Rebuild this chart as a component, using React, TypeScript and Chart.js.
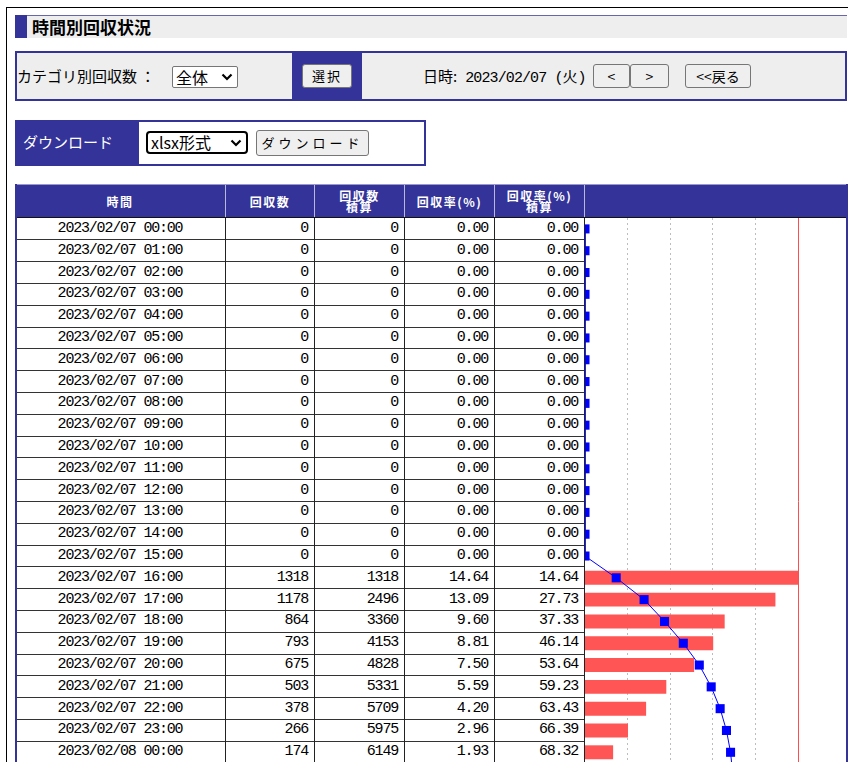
import React, { useEffect, useRef } from 'react';
import { Chart, registerables } from 'chart.js';

Chart.register(...registerables);

// ---- data ----
const times = [
  '2023/02/07 00:00', '2023/02/07 01:00', '2023/02/07 02:00', '2023/02/07 03:00',
  '2023/02/07 04:00', '2023/02/07 05:00', '2023/02/07 06:00', '2023/02/07 07:00',
  '2023/02/07 08:00', '2023/02/07 09:00', '2023/02/07 10:00', '2023/02/07 11:00',
  '2023/02/07 12:00', '2023/02/07 13:00', '2023/02/07 14:00', '2023/02/07 15:00',
  '2023/02/07 16:00', '2023/02/07 17:00', '2023/02/07 18:00', '2023/02/07 19:00',
  '2023/02/07 20:00', '2023/02/07 21:00', '2023/02/07 22:00', '2023/02/07 23:00',
  '2023/02/08 00:00', '2023/02/08 01:00',
];
const counts = [0, 0, 0, 0, 0, 0, 0, 0, 0, 0, 0, 0, 0, 0, 0, 0, 1318, 1178, 864, 793, 675, 503, 378, 266, 174, 93];
const cumCounts = [0, 0, 0, 0, 0, 0, 0, 0, 0, 0, 0, 0, 0, 0, 0, 0, 1318, 2496, 3360, 4153, 4828, 5331, 5709, 5975, 6149, 6242];
const rates = [0, 0, 0, 0, 0, 0, 0, 0, 0, 0, 0, 0, 0, 0, 0, 0, 14.64, 13.09, 9.6, 8.81, 7.5, 5.59, 4.2, 2.96, 1.93, 1.03];
const cumRates = [0, 0, 0, 0, 0, 0, 0, 0, 0, 0, 0, 0, 0, 0, 0, 0, 14.64, 27.73, 37.33, 46.14, 53.64, 59.23, 63.43, 66.39, 68.32, 69.33];
const headerLabels = ['時間', '回収数', '回収数\n積算', '回収率(%)', '回収率(%)\n積算', ''];
const gridValues = [20, 40, 60, 80];
const refValue = 100;
const axisMax = 122.5;

// ---- layout ----
const COLS = [15, 225, 314, 404, 494, 584, 847];
const HEAD_TOP = 184;
const BODY_TOP = 218;
const ROW_H = 21.8;
const NUM_FONT = '"Liberation Mono", monospace';
const JP_FONT = '"Noto Sans CJK JP", "Noto Sans", sans-serif';
const BLUE = '#333399';

function ChartCol() {
  const ref = useRef<HTMLCanvasElement | null>(null);
  useEffect(() => {
    const canvas = ref.current;
    if (!canvas) return;
    const maxCount = Math.max(...counts);
    const refLine = {
      id: 'refLine',
      beforeDatasetsDraw(chart: any) {
        const x = chart.scales.x.getPixelForValue(refValue);
        const { top, bottom } = chart.chartArea;
        const ctx = chart.ctx;
        ctx.save();
        ctx.strokeStyle = '#ff4d4d';
        ctx.lineWidth = 1;
        ctx.beginPath();
        ctx.moveTo(Math.round(x) + 0.5, top);
        ctx.lineTo(Math.round(x) + 0.5, bottom);
        ctx.stroke();
        ctx.restore();
      },
    };
    const chart = new Chart(canvas, {
      type: 'bar',
      data: {
        labels: times,
        datasets: [
          {
            type: 'line',
            data: cumRates,
            xAxisID: 'x',
            yAxisID: 'y',
            borderColor: '#0000ff',
            backgroundColor: '#0000ff',
            borderWidth: 1,
            pointStyle: 'rect',
            pointRadius: 6.4,
            pointBorderWidth: 0,
            pointBackgroundColor: '#0000ff',
            order: 0,
            clip: 0,
          } as any,
          {
            type: 'bar',
            data: counts,
            xAxisID: 'xBar',
            yAxisID: 'y',
            backgroundColor: '#ff5555',
            borderWidth: 0,
            barPercentage: 0.64,
            categoryPercentage: 1,
            order: 1,
          } as any,
        ],
      },
      options: {
        indexAxis: 'y',
        responsive: false,
        animation: false,
        layout: { padding: 0, autoPadding: false },
        plugins: { legend: { display: false }, tooltip: { enabled: false } },
        scales: {
          y: { type: 'category', display: false, offset: true },
          x: {
            type: 'linear',
            position: 'top',
            min: 0,
            max: axisMax,
            ticks: { display: false, stepSize: 20 },
            grid: {
              drawTicks: false,
              lineWidth: 1,
              color: (c: any) => (c.tick && gridValues.includes(c.tick.value) ? '#bdbdbd' : 'rgba(0,0,0,0)'),
            },
            border: { display: false, dash: [2, 3] },
          },
          xBar: { type: 'linear', display: false, min: 0, max: (maxCount * axisMax) / refValue },
        },
      } as any,
      plugins: [refLine],
    });
    return () => chart.destroy();
  }, []);
  return (
    <canvas
      ref={ref}
      width={261}
      height={Math.round(times.length * ROW_H)}
      style={{ position: 'absolute', left: COLS[5] + 1, top: BODY_TOP, width: 261, height: Math.round(times.length * ROW_H) }}
    />
  );
}

function Btn(props: { l: number; t: number; w: number; h: number; fs: number; ls?: number; children: any }) {
  return (
    <div
      style={{
        position: 'absolute', left: props.l, top: props.t, width: props.w, height: props.h,
        boxSizing: 'border-box', border: '1px solid #767676', borderRadius: 3, background: '#efefef',
        fontSize: props.fs, letterSpacing: props.ls || 0, lineHeight: props.h - 2 + 'px', textAlign: 'center',
        color: '#000', fontFamily: JP_FONT,
      }}
    >
      {props.children}
    </div>
  );
}

function Sel(props: { l: number; t: number; w: number; h: number; text: string; bw: number; fs: number }) {
  return (
    <div
      style={{
        position: 'absolute', left: props.l, top: props.t, width: props.w, height: props.h,
        boxSizing: 'border-box', border: `${props.bw}px solid ${props.bw > 1 ? '#000' : '#767676'}`,
        borderRadius: props.bw > 1 ? 4 : 2, background: '#fff', fontSize: props.fs,
        lineHeight: props.h - 2 * props.bw + 'px', paddingLeft: 3, fontFamily: JP_FONT, color: '#000',
      }}
    >
      {props.text}
      <svg width="12" height="8" style={{ position: 'absolute', right: 4, top: (props.h - 2 * props.bw - 8) / 2 }}>
        <polyline points="1.5,1.5 6,6 10.5,1.5" fill="none" stroke="#000" strokeWidth="2.2" />
      </svg>
    </div>
  );
}

export default function App() {
  const fmt = (v: number) => v.toFixed(2);
  return (
    <div style={{ position: 'absolute', left: 0, top: 0, width: 848, height: 762, overflow: 'hidden', background: '#fff', fontFamily: JP_FONT, color: '#000' }}>
      {/* frame */}
      <div style={{ position: 'absolute', left: 6, top: 7, width: 900, height: 900, borderTop: '1px solid #000', borderLeft: '1px solid #000' }} />

      {/* title */}
      <div style={{ position: 'absolute', left: 15, top: 15, width: 832, height: 23, background: '#eeeeee', borderTop: '1px solid #6666aa', boxSizing: 'border-box' }} />
      <div style={{ position: 'absolute', left: 15, top: 15, width: 12, height: 23, background: BLUE }} />
      <div style={{ position: 'absolute', left: 32, top: 15, height: 23, lineHeight: '24px', fontSize: 17, fontWeight: 700 }}>時間別回収状況</div>

      {/* control box */}
      <div style={{ position: 'absolute', left: 15, top: 51, width: 832, height: 50, boxSizing: 'border-box', border: `2px solid ${BLUE}`, background: '#eeeeee' }} />
      <div style={{ position: 'absolute', left: 292, top: 51, width: 70, height: 50, background: BLUE }} />
      <div style={{ position: 'absolute', left: 17, top: 53, height: 46, lineHeight: '46px', fontSize: 15 }}>カテゴリ別回収数 ：</div>
      <Sel l={172} t={66} w={66} h={22} text="全体" bw={1} fs={16} />
      <Btn l={302} t={64} w={50} h={24} fs={13} ls={2}>選択</Btn>
      <div style={{ position: 'absolute', left: 423, top: 53, height: 46, lineHeight: '46px', fontSize: 14, whiteSpace: 'pre' }}>
        <span style={{ fontFamily: JP_FONT, fontSize: 15 }}>日時:</span>
        <span style={{ fontFamily: NUM_FONT, fontSize: 15, letterSpacing: -0.9 }}> 2023/02/07 (</span>
        <span style={{ fontFamily: JP_FONT, fontSize: 15 }}>火</span>
        <span style={{ fontFamily: NUM_FONT, fontSize: 15 }}>)</span>
      </div>
      <Btn l={593} t={64} w={37} h={24} fs={14}>&lt;</Btn>
      <Btn l={630} t={64} w={39} h={24} fs={14}>&gt;</Btn>
      <Btn l={685} t={64} w={66} h={24} fs={14}>&lt;&lt;戻る</Btn>

      {/* download box */}
      <div style={{ position: 'absolute', left: 15, top: 120, width: 411, height: 46, boxSizing: 'border-box', border: `2px solid ${BLUE}`, background: '#fff' }} />
      <div style={{ position: 'absolute', left: 15, top: 120, width: 124, height: 46, background: BLUE }} />
      <div style={{ position: 'absolute', left: 23, top: 120, height: 46, lineHeight: '44px', fontSize: 15, color: '#fff' }}>ダウンロード</div>
      <Sel l={146} t={131} w={102} h={23} text="xlsx形式" bw={2} fs={16} />
      <Btn l={256} t={130} w={113} h={26} fs={13} ls={4}>ダウンロード</Btn>

      {/* table header */}
      <div style={{ position: 'absolute', left: 15, top: HEAD_TOP, width: 832, height: BODY_TOP - HEAD_TOP, background: BLUE, borderTop: '1px solid #9999cc', boxSizing: 'border-box' }} />
      {headerLabels.map((h, i) => (
        <div
          key={'h' + i}
          style={{
            position: 'absolute', left: COLS[i], top: HEAD_TOP + 1, width: COLS[i + 1] - COLS[i], height: BODY_TOP - HEAD_TOP - 2,
            display: 'flex', alignItems: 'center', justifyContent: 'center', textAlign: 'center',
            color: '#fff', fontWeight: 700, fontSize: 12, lineHeight: '11px', whiteSpace: 'pre', letterSpacing: 1.5,
            borderLeft: i > 0 ? '1px solid #b8b8dd' : 'none', boxSizing: 'border-box',
          }}
        >
          {h}
        </div>
      ))}
      <div style={{ position: 'absolute', left: 15, top: BODY_TOP - 1, width: 832, height: 1, background: '#111' }} />

      {/* table body */}
      <div style={{ position: 'absolute', left: 15, top: BODY_TOP, width: 832, height: 700, background: '#fff' }} />
      {times.map((t, r) => {
        const top = BODY_TOP + r * ROW_H;
        const cells = [t, String(counts[r]), String(cumCounts[r]), fmt(rates[r]), fmt(cumRates[r])];
        return (
          <React.Fragment key={'r' + r}>
            {cells.map((c, i) => (
              <div
                key={i}
                style={{
                  position: 'absolute', left: COLS[i], top, width: COLS[i + 1] - COLS[i], height: ROW_H,
                  lineHeight: ROW_H + 'px', fontFamily: NUM_FONT, fontSize: 15, letterSpacing: -1.2,
                  textAlign: i === 0 ? 'center' : 'right', paddingRight: i === 0 ? 0 : 6, boxSizing: 'border-box',
                  whiteSpace: 'pre',
                }}
              >
                {c}
              </div>
            ))}
            <div style={{ position: 'absolute', left: COLS[0], top: top + ROW_H - 0.5, width: COLS[5] - COLS[0], height: 1, background: '#333' }} />
          </React.Fragment>
        );
      })}
      {[1, 2, 3, 4, 5].map((i) => (
        <div key={'v' + i} style={{ position: 'absolute', left: COLS[i], top: BODY_TOP, width: 1, height: 700, background: '#222' }} />
      ))}
      <div style={{ position: 'absolute', left: 15, top: HEAD_TOP, width: 2, height: 700, background: BLUE }} />
      <ChartCol />
      <div style={{ position: 'absolute', left: 846, top: HEAD_TOP, width: 2, height: 700, background: BLUE }} />
    </div>
  );
}
